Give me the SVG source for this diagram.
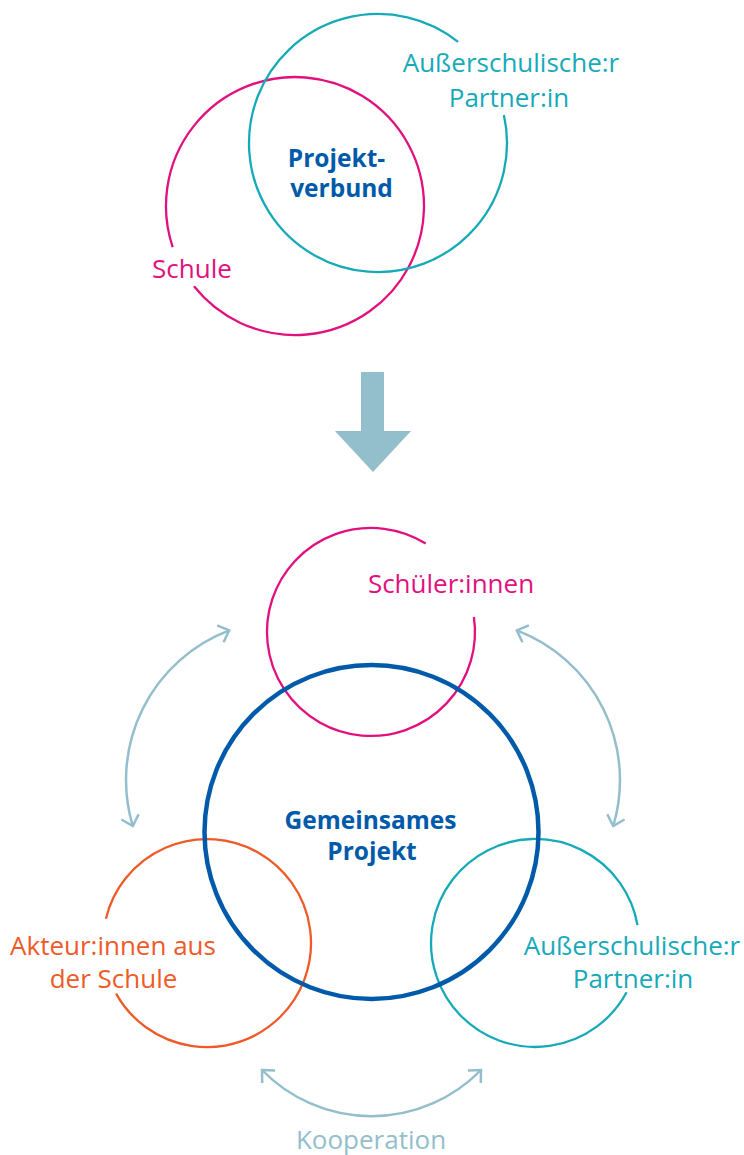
<svg xmlns="http://www.w3.org/2000/svg" width="744" height="1155" viewBox="0 0 744 1155">
  <defs>
    <style>
      .t { font-family: "Open Sans", "Noto Sans", "Liberation Sans", sans-serif; font-size: 26px; text-anchor: middle; }
      .b { font-family: "Open Sans", "Noto Sans", "Liberation Sans", sans-serif; font-size: 24.5px; font-weight: 700; text-anchor: middle; fill: #005AAA; }
      .pink { fill: #E2107E; }
      .cyan { fill: #16AAB9; }
      .orange { fill: #EE5A28; }
      .light { fill: #93BECB; }
      .ring { fill: none; stroke-width: 2.3; }
      .conn { fill: none; stroke: #93BECB; stroke-width: 2.5; marker-start: url(#chev); marker-end: url(#chev); }
    </style>
    <marker id="chev" markerUnits="userSpaceOnUse" orient="auto-start-reverse" refX="0" refY="0" markerWidth="30" markerHeight="30" viewBox="-15 -15 30 30" overflow="visible">
      <path d="M -9.5 -9 L 0 0 L -9.5 9" fill="none" stroke="#93BECB" stroke-width="2.5"/>
    </marker>
  </defs>
  <rect width="744" height="1155" fill="#FFFFFF"/>

  <!-- Top Venn -->
  <g id="schule-top">
    <path class="ring" stroke="#E2107E" d="M 172.7 247.1 A 129 129 0 1 1 194.0 286.3"/>
    <text class="t pink" x="192" y="278">Schule</text>
  </g>
  <g id="partner-top">
    <path class="ring" stroke="#16AAB9" d="M 503.9 114.9 A 129 129 0 1 1 458.1 41.9"/>
    <text class="t cyan" x="511" y="72">Außerschulische:r</text>
    <text class="t cyan" x="509" y="107">Partner:in</text>
  </g>
  <g id="projektverbund">
    <text class="b" x="336.5" y="167">Projekt-</text>
    <text class="b" x="341.5" y="197">verbund</text>
  </g>

  <!-- Transition arrow -->
  <g id="down-arrow">
    <polygon points="361,372 384,372 384,431 411,431 373,472 335,431 361,431" fill="#93BECB"/>
  </g>

  <!-- Bottom diagram -->
  <g id="schueler">
    <path class="ring" stroke="#E2107E" stroke-width="2" d="M 473.9 617 A 104 104 0 1 1 425.7 543.5"/>
    <text class="t pink" x="451" y="593">Schüler:innen</text>
  </g>
  <g id="akteure">
    <path class="ring" stroke="#EE5A28" stroke-width="2" d="M 105.9 918.7 A 104 104 0 1 1 116.1 993.6"/>
    <text class="t orange" x="113" y="955">Akteur:innen aus</text>
    <text class="t orange" x="113.5" y="988">der Schule</text>
  </g>
  <g id="partner-bottom">
    <path class="ring" stroke="#16AAB9" stroke-width="2" d="M 626.6 992.3 A 104 104 0 1 1 637.5 925.1"/>
    <text class="t cyan" x="632" y="955">Außerschulische:r</text>
    <text class="t cyan" x="633" y="988">Partner:in</text>
  </g>
  <g id="gemeinsames-projekt">
    <circle cx="371.5" cy="832" r="167" fill="none" stroke="#005AAA" stroke-width="4.5"/>
    <text class="b" x="370.5" y="829">Gemeinsames</text>
    <text class="b" x="372" y="860">Projekt</text>
  </g>

  <g id="connectors">
    <path class="conn" d="M 229.2 630.4 A 160 160 0 0 0 132.8 826"/>
    <path class="conn" d="M 516.8 630.4 A 160 160 0 0 1 613.2 826"/>
    <path class="conn" d="M 262 1070 A 153 153 0 0 0 481 1070"/>
    <text class="t light" x="371" y="1149">Kooperation</text>
  </g>
</svg>
